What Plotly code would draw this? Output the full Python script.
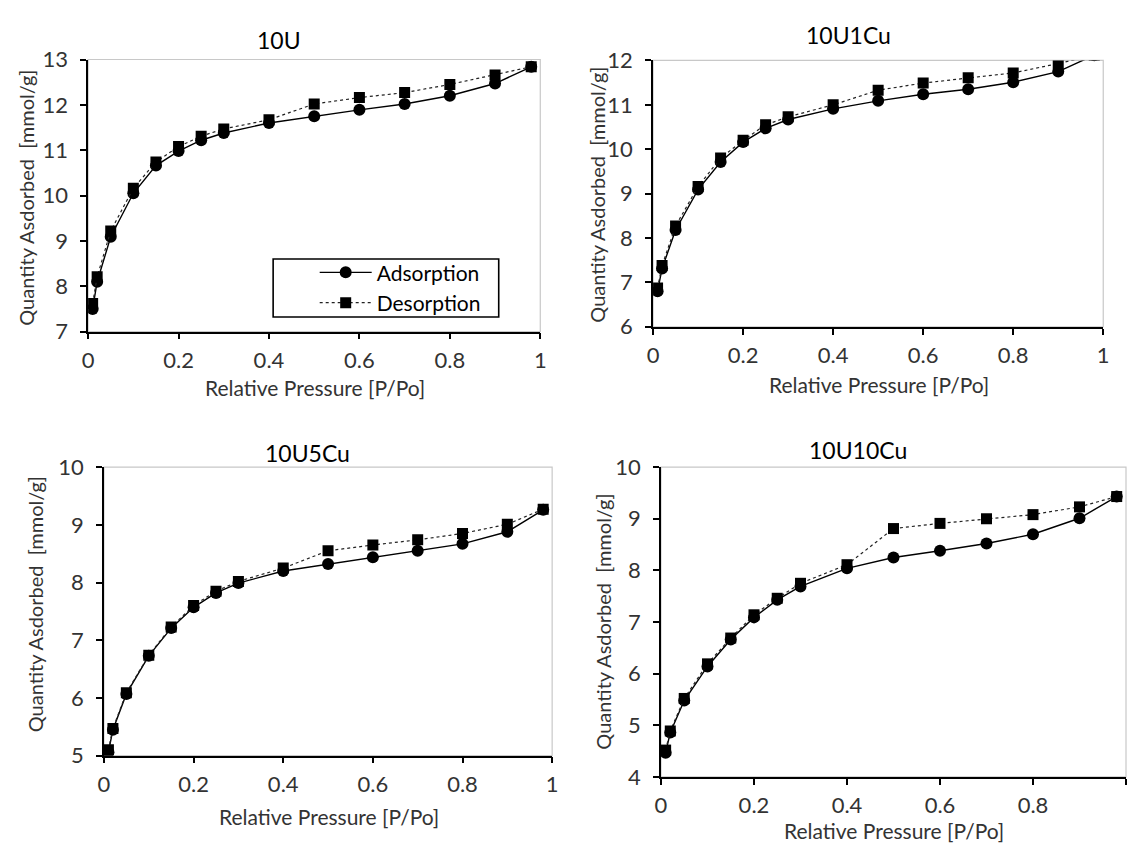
import plotly.graph_objects as go
from plotly.subplots import make_subplots

# ---------------- data ----------------
rel_pressure = [0.01, 0.02, 0.05, 0.10, 0.15, 0.20, 0.25, 0.30, 0.40, 0.50, 0.60, 0.70, 0.80, 0.90, 0.98]

panel_titles = ["10U", "10U1Cu", "10U5Cu", "10U10Cu"]

ads_10U = [7.50, 8.10, 9.09, 10.05, 10.66, 10.98, 11.22, 11.38, 11.60, 11.75, 11.89, 12.02, 12.20, 12.47, 12.84]
des_10U = [7.62, 8.21, 9.22, 10.16, 10.74, 11.08, 11.31, 11.47, 11.67, 12.02, 12.16, 12.27, 12.45, 12.66, 12.84]

ads_10U1Cu = [6.80, 7.31, 8.18, 9.09, 9.71, 10.16, 10.47, 10.67, 10.91, 11.09, 11.24, 11.35, 11.51, 11.75, 12.12]
des_10U1Cu = [6.87, 7.38, 8.27, 9.16, 9.80, 10.20, 10.55, 10.73, 11.00, 11.33, 11.49, 11.61, 11.72, 11.93, 12.12]

ads_10U5Cu = [5.06, 5.45, 6.07, 6.73, 7.21, 7.57, 7.82, 7.99, 8.20, 8.32, 8.44, 8.55, 8.67, 8.88, 9.26]
des_10U5Cu = [5.10, 5.47, 6.09, 6.74, 7.23, 7.60, 7.85, 8.02, 8.25, 8.55, 8.65, 8.74, 8.85, 9.01, 9.27]

ads_10U10Cu = [4.47, 4.86, 5.48, 6.14, 6.66, 7.09, 7.43, 7.69, 8.04, 8.25, 8.38, 8.52, 8.70, 9.01, 9.43]
des_10U10Cu = [4.52, 4.89, 5.52, 6.19, 6.69, 7.14, 7.46, 7.75, 8.11, 8.81, 8.91, 9.00, 9.08, 9.23, 9.43]

y_ranges = [[7, 13], [6, 12], [5, 10], [4, 10]]

ads_all = [ads_10U, ads_10U1Cu, ads_10U5Cu, ads_10U10Cu]
des_all = [des_10U, des_10U1Cu, des_10U5Cu, des_10U10Cu]

# ---------------- layout geometry (pixels) ----------------
W, H = 1132, 849
FONT = "Lato, 'Open Sans', sans-serif"
TXT = "#333333"

# plot areas: left, right, top, bottom (px)
boxes = [
    (83, 540, 47, 328),
    (654, 1109, 48, 323),
    (99, 552, 468, 766),
    (662, 1132, 468, 788),
]
title_pos = [(276, 27), (852, 22), (305, 453), (861, 450)]
xtitle_y = [386, 383, 829, 843]
ytitle_pos = [(20, 190), (597, 187), (29, 610), (603, 628)]


def px(x):
    return x / W


def py(y):
    return 1 - y / H


fig = make_subplots(rows=2, cols=2)

for i in range(4):
    r, c = i // 2 + 1, i % 2 + 1
    fig.add_trace(go.Scatter(
        x=rel_pressure, y=ads_all[i], mode="lines+markers", name="Adsorption",
        line=dict(color="black", width=1.4),
        marker=dict(symbol="circle", size=12, color="black"),
        showlegend=(i == 0)), row=r, col=c)
    fig.add_trace(go.Scatter(
        x=rel_pressure, y=des_all[i], mode="lines+markers", name="Desorption",
        line=dict(color="#222222", width=1.2, dash="dot"),
        marker=dict(symbol="square", size=11, color="black"),
        showlegend=(i == 0)), row=r, col=c)

annotations = []
shapes = []
for i in range(4):
    l, rgt, t, b = boxes[i]
    xa = "xaxis" if i == 0 else f"xaxis{i+1}"
    ya = "yaxis" if i == 0 else f"yaxis{i+1}"
    fig.layout[xa].update(
        domain=[px(l), min(px(rgt), 1.0)], range=[0, 1], dtick=0.2, tick0=0,
        showgrid=False, zeroline=False, showline=True, linecolor="black", linewidth=1.6,
        ticks="outside", ticklen=6, tickwidth=1.6, tickcolor="black",
        tickfont=dict(family=FONT, size=22, color=TXT), ticklabelstandoff=2)
    fig.layout[ya].update(
        domain=[py(b), py(t)], range=y_ranges[i], dtick=1,
        showgrid=False, zeroline=False, showline=True, linecolor="black", linewidth=1.6,
        ticks="outside", ticklen=6, tickwidth=1.6, tickcolor="black",
        tickfont=dict(family=FONT, size=22, color=TXT), ticklabelstandoff=8)
    xr = "x" if i == 0 else f"x{i+1}"
    yr = "y" if i == 0 else f"y{i+1}"
    shapes.append(dict(type="rect", xref=f"{xr} domain", yref=f"{yr} domain",
                       x0=0, x1=1, y0=0, y1=1, line=dict(color="#c8c8c8", width=1.2),
                       layer="below"))
    tx, ty = title_pos[i]
    annotations.append(dict(text=panel_titles[i], x=px(tx), y=py(ty), xref="paper", yref="paper",
                            showarrow=False, xanchor="center", yanchor="middle",
                            font=dict(family=FONT, size=23, color="black")))
    annotations.append(dict(text="Relative Pressure [P/Po]", x=px((l + min(rgt, 1133)) / 2 + 0.5),
                            y=py(xtitle_y[i]), xref="paper", yref="paper",
                            showarrow=False, xanchor="center", yanchor="middle",
                            font=dict(family=FONT, size=21, color=TXT)))
    yx, yy = ytitle_pos[i]
    annotations.append(dict(text="Quantity Asdorbed\u00a0 [mmol/g]", x=px(yx), y=py(yy),
                            xref="paper", yref="paper", textangle=-90,
                            showarrow=False, xanchor="center", yanchor="middle",
                            font=dict(family=FONT, size=20, color=TXT)))

# legend frame
shapes.append(dict(type="rect", xref="paper", yref="paper",
                   x0=px(270), x1=px(498), y0=py(313), y1=py(253),
                   line=dict(color="black", width=1.6), fillcolor="rgba(0,0,0,0)", layer="above"))

fig.update_layout(
    width=W, height=H, margin=dict(l=0, r=0, t=0, b=0),
    paper_bgcolor="white", plot_bgcolor="white",
    font=dict(family=FONT, color=TXT),
    annotations=annotations, shapes=shapes,
    legend=dict(x=px(312), y=py(246), xanchor="left", yanchor="top", itemwidth=52,
                bgcolor="rgba(0,0,0,0)", borderwidth=0, tracegroupgap=0,
                font=dict(family=FONT, size=21, color="black")),
)

fig.write_html("out.html", config={"displayModeBar": False},
               post_script="document.body.style.margin='0';document.body.style.padding='0';"
                           "document.documentElement.style.overflow='hidden';")
